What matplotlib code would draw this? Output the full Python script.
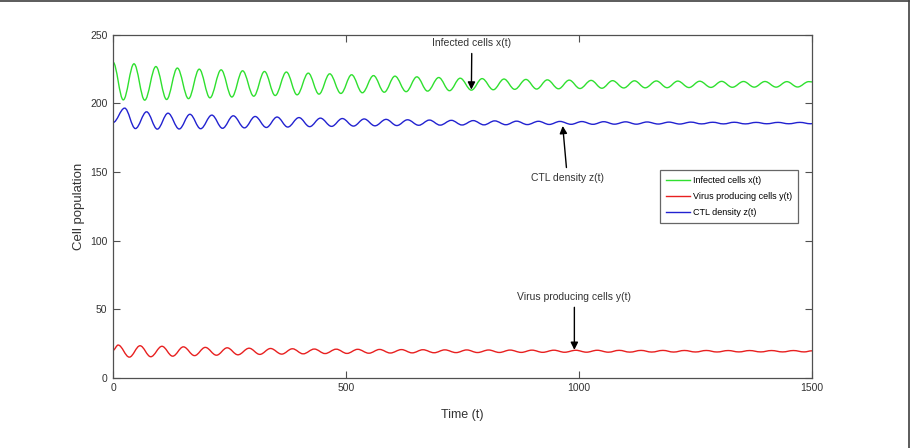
#!/usr/bin/env python3
import matplotlib
matplotlib.use("Agg")
import matplotlib.pyplot as plt
from matplotlib.path import Path
from matplotlib.patches import PathPatch
from matplotlib.lines import Line2D

# ─── Data (turning points of each curve) ──────────────────────────────────────
green_t = [0, 22, 45, 68, 92, 115, 138, 162, 185, 208, 232, 255, 278, 302, 325, 348,
           372, 395, 419, 442, 465, 489, 512, 535, 559, 582, 605, 629, 652, 675, 699, 722,
           745, 769, 792, 816, 839, 862, 886, 909, 932, 956, 979, 1002, 1026, 1049, 1072,
           1096, 1119, 1142, 1166, 1189, 1212, 1236, 1259, 1283, 1306, 1329, 1353, 1376,
           1399, 1423, 1446, 1469, 1493, 1500]
green_v = [230.0, 202.5, 228.8, 202.3, 226.8, 202.8, 225.7, 203.4, 224.9, 204.0, 224.4,
           204.6, 223.7, 205.2, 223.2, 205.7, 222.8, 206.2, 222.0, 206.7, 221.5, 207.2,
           220.8, 207.7, 220.2, 208.1, 219.8, 208.5, 219.3, 208.9, 218.8, 209.2, 218.3,
           209.6, 218.0, 209.9, 217.7, 210.2, 217.4, 210.4, 217.1, 210.6, 216.9, 210.8,
           216.7, 211.0, 216.5, 211.2, 216.4, 211.3, 216.3, 211.4, 216.2, 211.5, 216.1,
           211.6, 216.0, 211.7, 215.9, 211.8, 215.9, 211.8, 215.8, 211.9, 215.8, 215.6]

red_t = [0, 11, 35, 58, 81, 105, 128, 151, 175, 198, 222, 245, 268, 292, 315, 338, 362,
         385, 408, 432, 455, 479, 502, 525, 549, 572, 595, 619, 642, 665, 689, 712, 736,
         759, 782, 806, 829, 852, 876, 899, 922, 946, 969, 993, 1016, 1039, 1063, 1086,
         1109, 1133, 1156, 1180, 1203, 1226, 1250, 1273, 1296, 1320, 1343, 1366, 1390,
         1413, 1437, 1460, 1483, 1500]
red_v = [20.0, 23.8, 15.0, 23.3, 15.3, 22.9, 15.7, 22.5, 16.1, 22.1, 16.4, 21.8, 16.7,
         21.5, 17.0, 21.3, 17.2, 21.1, 17.4, 20.9, 17.6, 20.8, 17.7, 20.7, 17.85, 20.6,
         18.0, 20.5, 18.1, 20.4, 18.2, 20.3, 18.3, 20.25, 18.35, 20.2, 18.4, 20.15, 18.45,
         20.1, 18.5, 20.05, 18.55, 20.0, 18.6, 20.0, 18.6, 19.95, 18.65, 19.9, 18.7, 19.9,
         18.7, 19.85, 18.75, 19.85, 18.75, 19.8, 18.8, 19.8, 18.8, 19.8, 18.8, 19.8, 18.8,
         19.6]

blue_t = [0, 25, 48, 72, 95, 118, 142, 165, 188, 212, 235, 258, 282, 305, 329, 352, 375,
          399, 422, 445, 469, 492, 516, 539, 562, 586, 609, 632, 656, 679, 702, 726, 749,
          773, 796, 819, 843, 866, 889, 913, 936, 959, 983, 1006, 1030, 1053, 1076, 1100,
          1123, 1146, 1170, 1193, 1216, 1240, 1263, 1287, 1310, 1333, 1357, 1380, 1403,
          1427, 1450, 1474, 1497, 1500]
blue_v = [186.0, 196.5, 181.6, 193.8, 181.2, 192.8, 181.3, 192.0, 181.5, 191.4, 181.8,
          190.9, 182.1, 190.4, 182.4, 190.0, 182.7, 189.6, 183.0, 189.2, 183.2, 188.9,
          183.4, 188.6, 183.6, 188.3, 183.8, 188.0, 184.0, 187.8, 184.1, 187.6, 184.2,
          187.4, 184.3, 187.2, 184.4, 187.0, 184.5, 186.9, 184.6, 186.8, 184.7, 186.7,
          184.7, 186.6, 184.8, 186.5, 184.8, 186.4, 184.9, 186.3, 184.9, 186.3, 185.0,
          186.2, 185.0, 186.2, 185.0, 186.1, 185.1, 186.1, 185.1, 186.1, 185.1, 185.2]

series = [
    ("Infected cells x(t)", green_t, green_v, "#2fe02f"),
    ("Virus producing cells y(t)", red_t, red_v, "#e82020"),
    ("CTL density z(t)", blue_t, blue_v, "#2222d0"),
]

X_TICKS = [0, 500, 1000, 1500]
Y_TICKS = [0, 50, 100, 150, 200, 250]

FONT = ["Liberation Sans", "DejaVu Sans"]
AXCOL = "#505050"
TXTCOL = "#333333"


def smooth_path(ts, vs):
    # cubic segments with flat tangents at each turning point
    verts = [(ts[0], vs[0])]
    codes = [Path.MOVETO]
    for (t0, v0), (t1, v1) in zip(zip(ts[:-1], vs[:-1]), zip(ts[1:], vs[1:])):
        dt = t1 - t0
        verts += [(t0 + 0.364 * dt, v0), (t1 - 0.364 * dt, v1), (t1, v1)]
        codes += [Path.CURVE4] * 3
    return Path(verts, codes)


fig = plt.figure(figsize=(9.13, 4.48), dpi=100)
ax = fig.add_axes([0.1238, 0.1569, 0.7656, 0.7656])

handles = []
for label, ts, vs, col in series:
    ax.add_patch(PathPatch(smooth_path(ts, vs), facecolor="none", edgecolor=col, lw=1.0))
    handles.append(Line2D([], [], color=col, lw=1.0, label=label))

ax.set_xlim(0, 1500)
ax.set_ylim(0, 250)
ax.set_xticks(X_TICKS)
ax.set_yticks(Y_TICKS)
ax.tick_params(direction="in", length=5, width=0.8, colors=AXCOL, top=True, right=True,
               labelsize=7.5, pad=4)
for lab in ax.get_xticklabels() + ax.get_yticklabels():
    lab.set_family(FONT)
    lab.set_color(TXTCOL)
for sp in ax.spines.values():
    sp.set_color(AXCOL)
    sp.set_linewidth(0.9)

ax.set_xlabel("Time (t)", family=FONT, fontsize=9, color=TXTCOL, labelpad=11)
ax.set_ylabel("Cell population", family=FONT, fontsize=9.5, color=TXTCOL, labelpad=4)

leg = ax.legend(handles=handles, loc="upper right", bbox_to_anchor=(0.980, 0.606),
                prop={"family": FONT, "size": 6.5}, frameon=True, fancybox=False,
                borderaxespad=0, handlelength=2.6, handletextpad=0.3, labelspacing=0.75,
                borderpad=0.7)
leg.get_frame().set_edgecolor("#404040")
leg.get_frame().set_linewidth(0.9)

arrow = dict(arrowstyle="-|>", color="black", lw=1.0, mutation_scale=11, shrinkA=2, shrinkB=0)
ax.annotate("Infected cells x(t)", xy=(769, 210), xytext=(770, 244), ha="center",
            va="center", fontsize=7.5, family=FONT, color=TXTCOL, arrowprops=arrow)
ax.annotate("CTL density z(t)", xy=(965, 183.5), xytext=(975, 145.5), ha="center",
            va="center", fontsize=7.5, family=FONT, color=TXTCOL, arrowprops=arrow)
ax.annotate("Virus producing cells y(t)", xy=(990, 20.3), xytext=(990, 59), ha="center",
            va="center", fontsize=7.5, family=FONT, color=TXTCOL, arrowprops=arrow)

# outer frame lines (top and right) as in the source image
fig.add_artist(Line2D([0, 0.996], [0.997, 0.997], color="#404040", lw=1.2))
fig.add_artist(Line2D([0.996, 0.996], [0, 0.997], color="#404040", lw=1.2))

fig.savefig("out.png", dpi=100)
